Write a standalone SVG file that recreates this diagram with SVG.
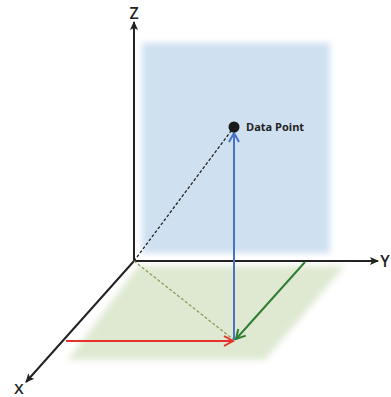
<svg xmlns="http://www.w3.org/2000/svg" width="391" height="397" viewBox="0 0 391 397">
<style>
.axis{stroke:#222;stroke-width:2;fill:none}
.lbl{font-family:"Open Sans","Liberation Sans",sans-serif;fill:#222}
</style>
<defs>
<filter id="soft" x="-10%" y="-10%" width="120%" height="120%"><feGaussianBlur stdDeviation="3"/></filter>
<marker id="ak" markerWidth="10" markerHeight="10" refX="8" refY="5" orient="auto" markerUnits="userSpaceOnUse"><path d="M0,1 L9,5 L0,9 L2,5 Z" fill="#222"/></marker>
<marker id="ab" markerWidth="12" markerHeight="12" refX="10" refY="6" orient="auto" markerUnits="userSpaceOnUse"><path d="M1,1 L10,6 L1,11" fill="none" stroke="#4a72c4" stroke-width="2"/></marker>
<marker id="ar" markerWidth="12" markerHeight="12" refX="10" refY="6" orient="auto" markerUnits="userSpaceOnUse"><path d="M1,1 L10,6 L1,11" fill="none" stroke="#e8302a" stroke-width="2"/></marker>
<marker id="ag" markerWidth="12" markerHeight="12" refX="10" refY="6" orient="auto" markerUnits="userSpaceOnUse"><path d="M1,1 L10,6 L1,11" fill="none" stroke="#2f7d32" stroke-width="2"/></marker>
</defs>
<g id="planes">
<rect x="142" y="43" width="188" height="210" fill="#cfe0f0" filter="url(#soft)"/>
<polygon points="138,266 345,266 265,360 68,360" fill="#dfe9d2" filter="url(#soft)"/>
</g>
<g id="connectors">
<line class="axis" x1="134" y1="261" x2="134" y2="22" marker-end="url(#ak)"/>
<line class="axis" x1="133" y1="261" x2="378" y2="261" marker-end="url(#ak)"/>
<line class="axis" x1="134" y1="261" x2="26" y2="382" marker-end="url(#ak)"/>
<line x1="134" y1="261" x2="231" y2="131" stroke="#222" stroke-width="1.3" stroke-dasharray="3,2"/>
<line x1="134" y1="261" x2="234" y2="340" stroke="#8a9a5a" stroke-width="1.3" stroke-dasharray="3,2"/>
<line x1="234" y1="340" x2="234" y2="133" stroke="#4a72c4" stroke-width="2" marker-end="url(#ab)"/>
<line x1="66" y1="341" x2="233" y2="341" stroke="#e8302a" stroke-width="2.2" marker-end="url(#ar)"/>
<line x1="305" y1="262" x2="236" y2="339" stroke="#2f7d32" stroke-width="2" marker-end="url(#ag)"/>
</g>
<g id="point">
<circle cx="234" cy="127" r="5.5" fill="#1a1a1a"/>
<text class="lbl" x="246" y="131" font-size="11" font-weight="bold">Data Point</text>
</g>
<g id="labels">
<text class="lbl" x="134" y="19" font-size="16" font-weight="600" text-anchor="middle">Z</text>
<text class="lbl" x="385" y="267" font-size="16" font-weight="600" text-anchor="middle">Y</text>
<text class="lbl" x="19" y="394" font-size="15" font-weight="600" text-anchor="middle">X</text>
</g>
</svg>
